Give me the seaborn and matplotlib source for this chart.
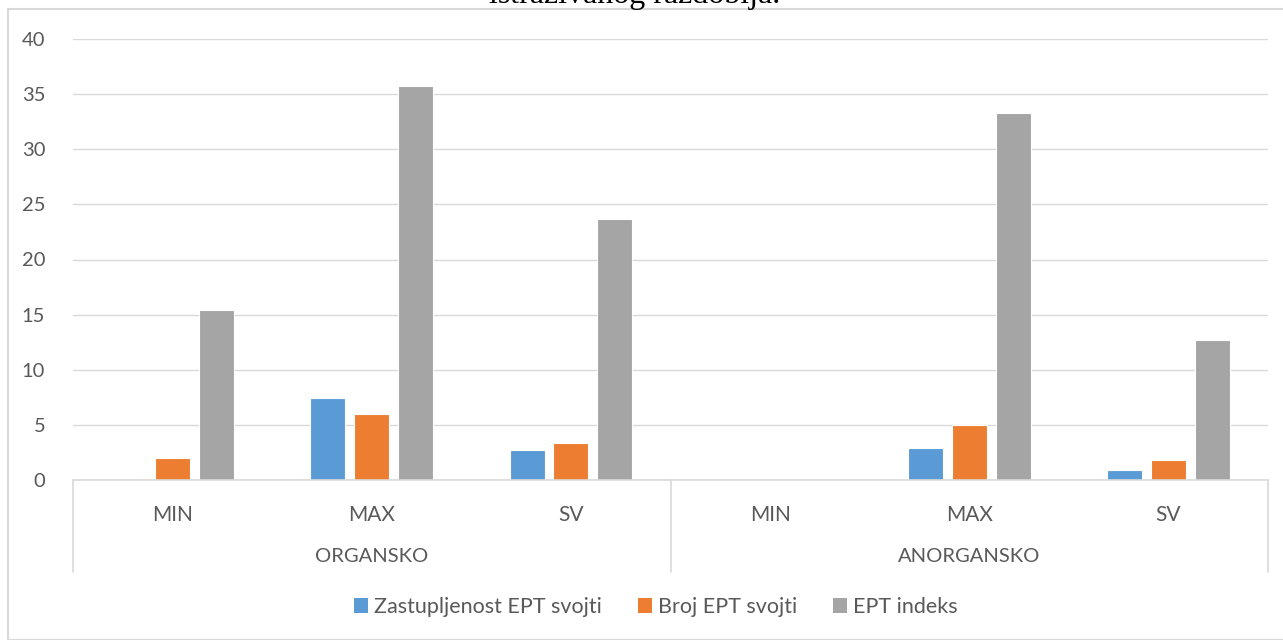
import pandas as pd
import seaborn as sns
import matplotlib.pyplot as plt
from matplotlib.patches import Rectangle, Patch
from matplotlib.transforms import blended_transform_factory

# data
groups = ['ORGANSKO', 'ANORGANSKO']
stats = ['MIN', 'MAX', 'SV']
series = ['Zastupljenost EPT svojti', 'Broj EPT svojti', 'EPT indeks']
zastupljenost = [0, 7.4, 2.7, 0, 2.9, 0.9]
broj = [2.0, 6.0, 3.4, 0, 5.0, 1.8]
ept_indeks = [15.4, 35.7, 23.7, 0, 33.3, 12.7]
colors = ['#5B9BD5', '#ED7D31', '#A5A5A5']

cats = [f'{g}|{s}' for g in groups for s in stats]
df = pd.DataFrame({
    'kat': cats * 3,
    'serija': [series[0]] * 6 + [series[1]] * 6 + [series[2]] * 6,
    'vrijednost': zastupljenost + broj + ept_indeks,
})

sns.set_theme(style='white')
plt.rcParams['font.family'] = ['Lato', 'DejaVu Sans']
txt = '#595959'
grid = '#d9d9d9'

fig = plt.figure(figsize=(12.83, 6.40), dpi=100)
W, H = 1283, 640
ax = fig.add_axes([73 / W, 1 - 480 / H, (1268 - 73) / W, (480 - 39) / H])

sns.barplot(data=df, x='kat', y='vrijednost', hue='serija', order=cats,
            hue_order=series, palette=colors, saturation=1, width=0.66, gap=0.2,
            edgecolor='white', linewidth=0.8, ax=ax, legend=False)

ax.set_ylim(0, 40)
ax.set_yticks(range(0, 41, 5))
ax.set_xlim(-0.5, 5.5)
ax.yaxis.grid(True, color=grid, linewidth=1)
ax.set_axisbelow(True)
for s in ['top', 'right', 'left']:
    ax.spines[s].set_visible(False)
ax.spines['bottom'].set_color(grid)
ax.spines['bottom'].set_linewidth(1.2)
ax.tick_params(axis='y', length=0, pad=20, labelsize=14.5, labelcolor=txt)
ax.tick_params(axis='x', length=0, pad=18, labelsize=15, labelcolor=txt)
ax.set_xticks(range(6))
ax.set_xticklabels(stats * 2)
ax.set_xlabel('')
ax.set_ylabel('')

# multi-level category axis
tr = blended_transform_factory(ax.transData, ax.transAxes)
depth = -(572 - 480) / (480 - 39)
for xv in [-0.5, 2.5, 5.5]:
    ax.plot([xv, xv], [0, depth], transform=tr, color=grid, lw=1.2, clip_on=False)
for i, g in enumerate(groups):
    ax.text(1 + 3 * i, -(557 - 480) / (480 - 39), g, transform=tr, ha='center',
            va='center', fontsize=14.5, color=txt)

# chart frame and the title, cut off at the top as in the source
fig.patches.append(Rectangle((8 / W, 0), 1.5, 1 - 9 / H, transform=fig.transFigure,
                             fill=False, edgecolor=grid, lw=1.5))
fig.text(635 / W, 1 - 3.5 / H, 'istraživanog razdoblja.', ha='center', va='baseline',
         fontsize=23, family='Liberation Serif', color='black')

handles = [Patch(facecolor=c, edgecolor='none') for c in colors]
fig.legend(handles, series, loc='center', bbox_to_anchor=(656 / W, 1 - 607 / H),
           ncol=3, frameon=False, fontsize=15.5, labelcolor=txt,
           handlelength=0.65, handleheight=0.65, handletextpad=0.3, columnspacing=1.65)

plt.savefig('out.png', dpi=100)
plt.close()
